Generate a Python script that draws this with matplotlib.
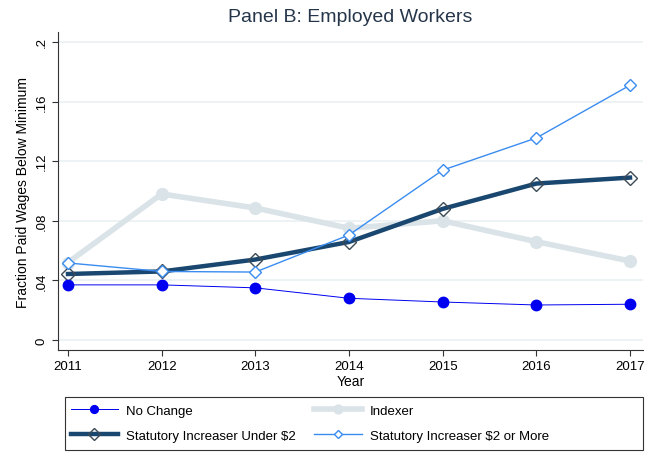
import matplotlib
matplotlib.use("Agg")
import matplotlib.pyplot as plt
from matplotlib.patches import Rectangle

plt.rcParams['font.family'] = ['Liberation Sans', 'DejaVu Sans']

years = [2011, 2012, 2013, 2014, 2015, 2016, 2017]
no_change = [0.037, 0.037, 0.035, 0.028, 0.0255, 0.0235, 0.024]
indexer = [0.052, 0.098, 0.0886, 0.075, 0.080, 0.066, 0.053]
under2 = [0.0443, 0.046, 0.054, 0.0658, 0.088, 0.105, 0.109]
over2 = [0.0517, 0.046, 0.0456, 0.0705, 0.114, 0.1356, 0.171]
yticks = [0, 0.04, 0.08, 0.12, 0.16, 0.2]
ytick_labels = ["0", ".04", ".08", ".12", ".16", ".2"]

fig = plt.figure(figsize=(6.55, 4.56), dpi=100)
ax = fig.add_axes([58/655, 1-351/456, (643-58)/655, (351-33)/456])

for y in yticks:
    ax.axhline(y, color='#eaf0f3', lw=1.2, zorder=0)

ax.plot(years, indexer, color='#dae3e8', lw=4, marker='o', ms=8.5, label='Indexer', zorder=1)
ax.plot(years, no_change, color='#0000f0', lw=0.7, marker='o', ms=7.5, label='No Change', zorder=4)
ax.plot(years, under2, color='#1a476f', lw=3.2, marker='D', ms=7.5, mfc='none', mec='#3c4a55', mew=1, label='Statutory Increaser Under $2', zorder=2)
ax.plot(years, over2, color='#3a8cf0', lw=1, marker='D', ms=6, mfc='white', mec='#3a8cf0', mew=1, label='Statutory Increaser $2 or More', zorder=3)

ax.set_xlim(2011 - 10/93.67, 2017 + 13/93.67)
ax.set_ylim(-10/1490, 0.2 + 10/1490)
ax.set_xticks(years)
ax.set_xticklabels([str(y) for y in years], fontsize=9.5)
ax.set_yticks(yticks)
ax.set_yticklabels(ytick_labels, fontsize=9.5, rotation=90, va='center')
ax.spines['top'].set_visible(False)
ax.spines['right'].set_visible(False)
ax.spines['left'].set_color('#333333')
ax.spines['bottom'].set_color('#333333')
ax.tick_params(length=4, color='#333333')
ax.set_xlabel('Year', fontsize=10, labelpad=1)
ax.set_ylabel('Fraction Paid Wages Below Minimum', fontsize=10, labelpad=4)
fig.text(350/655, 1-18/456, 'Panel B: Employed Workers', ha='center', va='center', fontsize=14, color='#26364a')

# legend frame
fig.patches.append(Rectangle((65/655, 1-451/456), 578/655, 53/456, transform=fig.transFigure,
                             fill=False, edgecolor='#333333', lw=0.8))

h, l = ax.get_legend_handles_labels()
# column-major fill: col1 = No Change, Under2; col2 = Indexer, Over2
order = [1, 2, 0, 3]
leg = fig.legend([h[i] for i in order], [l[i] for i in order], ncol=2,
                 loc='center left', bbox_to_anchor=(60/655, 1-424/456),
                 fontsize=9.5, markerscale=0.75, frameon=False,
                 handlelength=3.6, handletextpad=0.6, columnspacing=1.4,
                 borderpad=0.3, labelspacing=0.95)

fig.savefig('out.png', dpi=100, facecolor='white')
